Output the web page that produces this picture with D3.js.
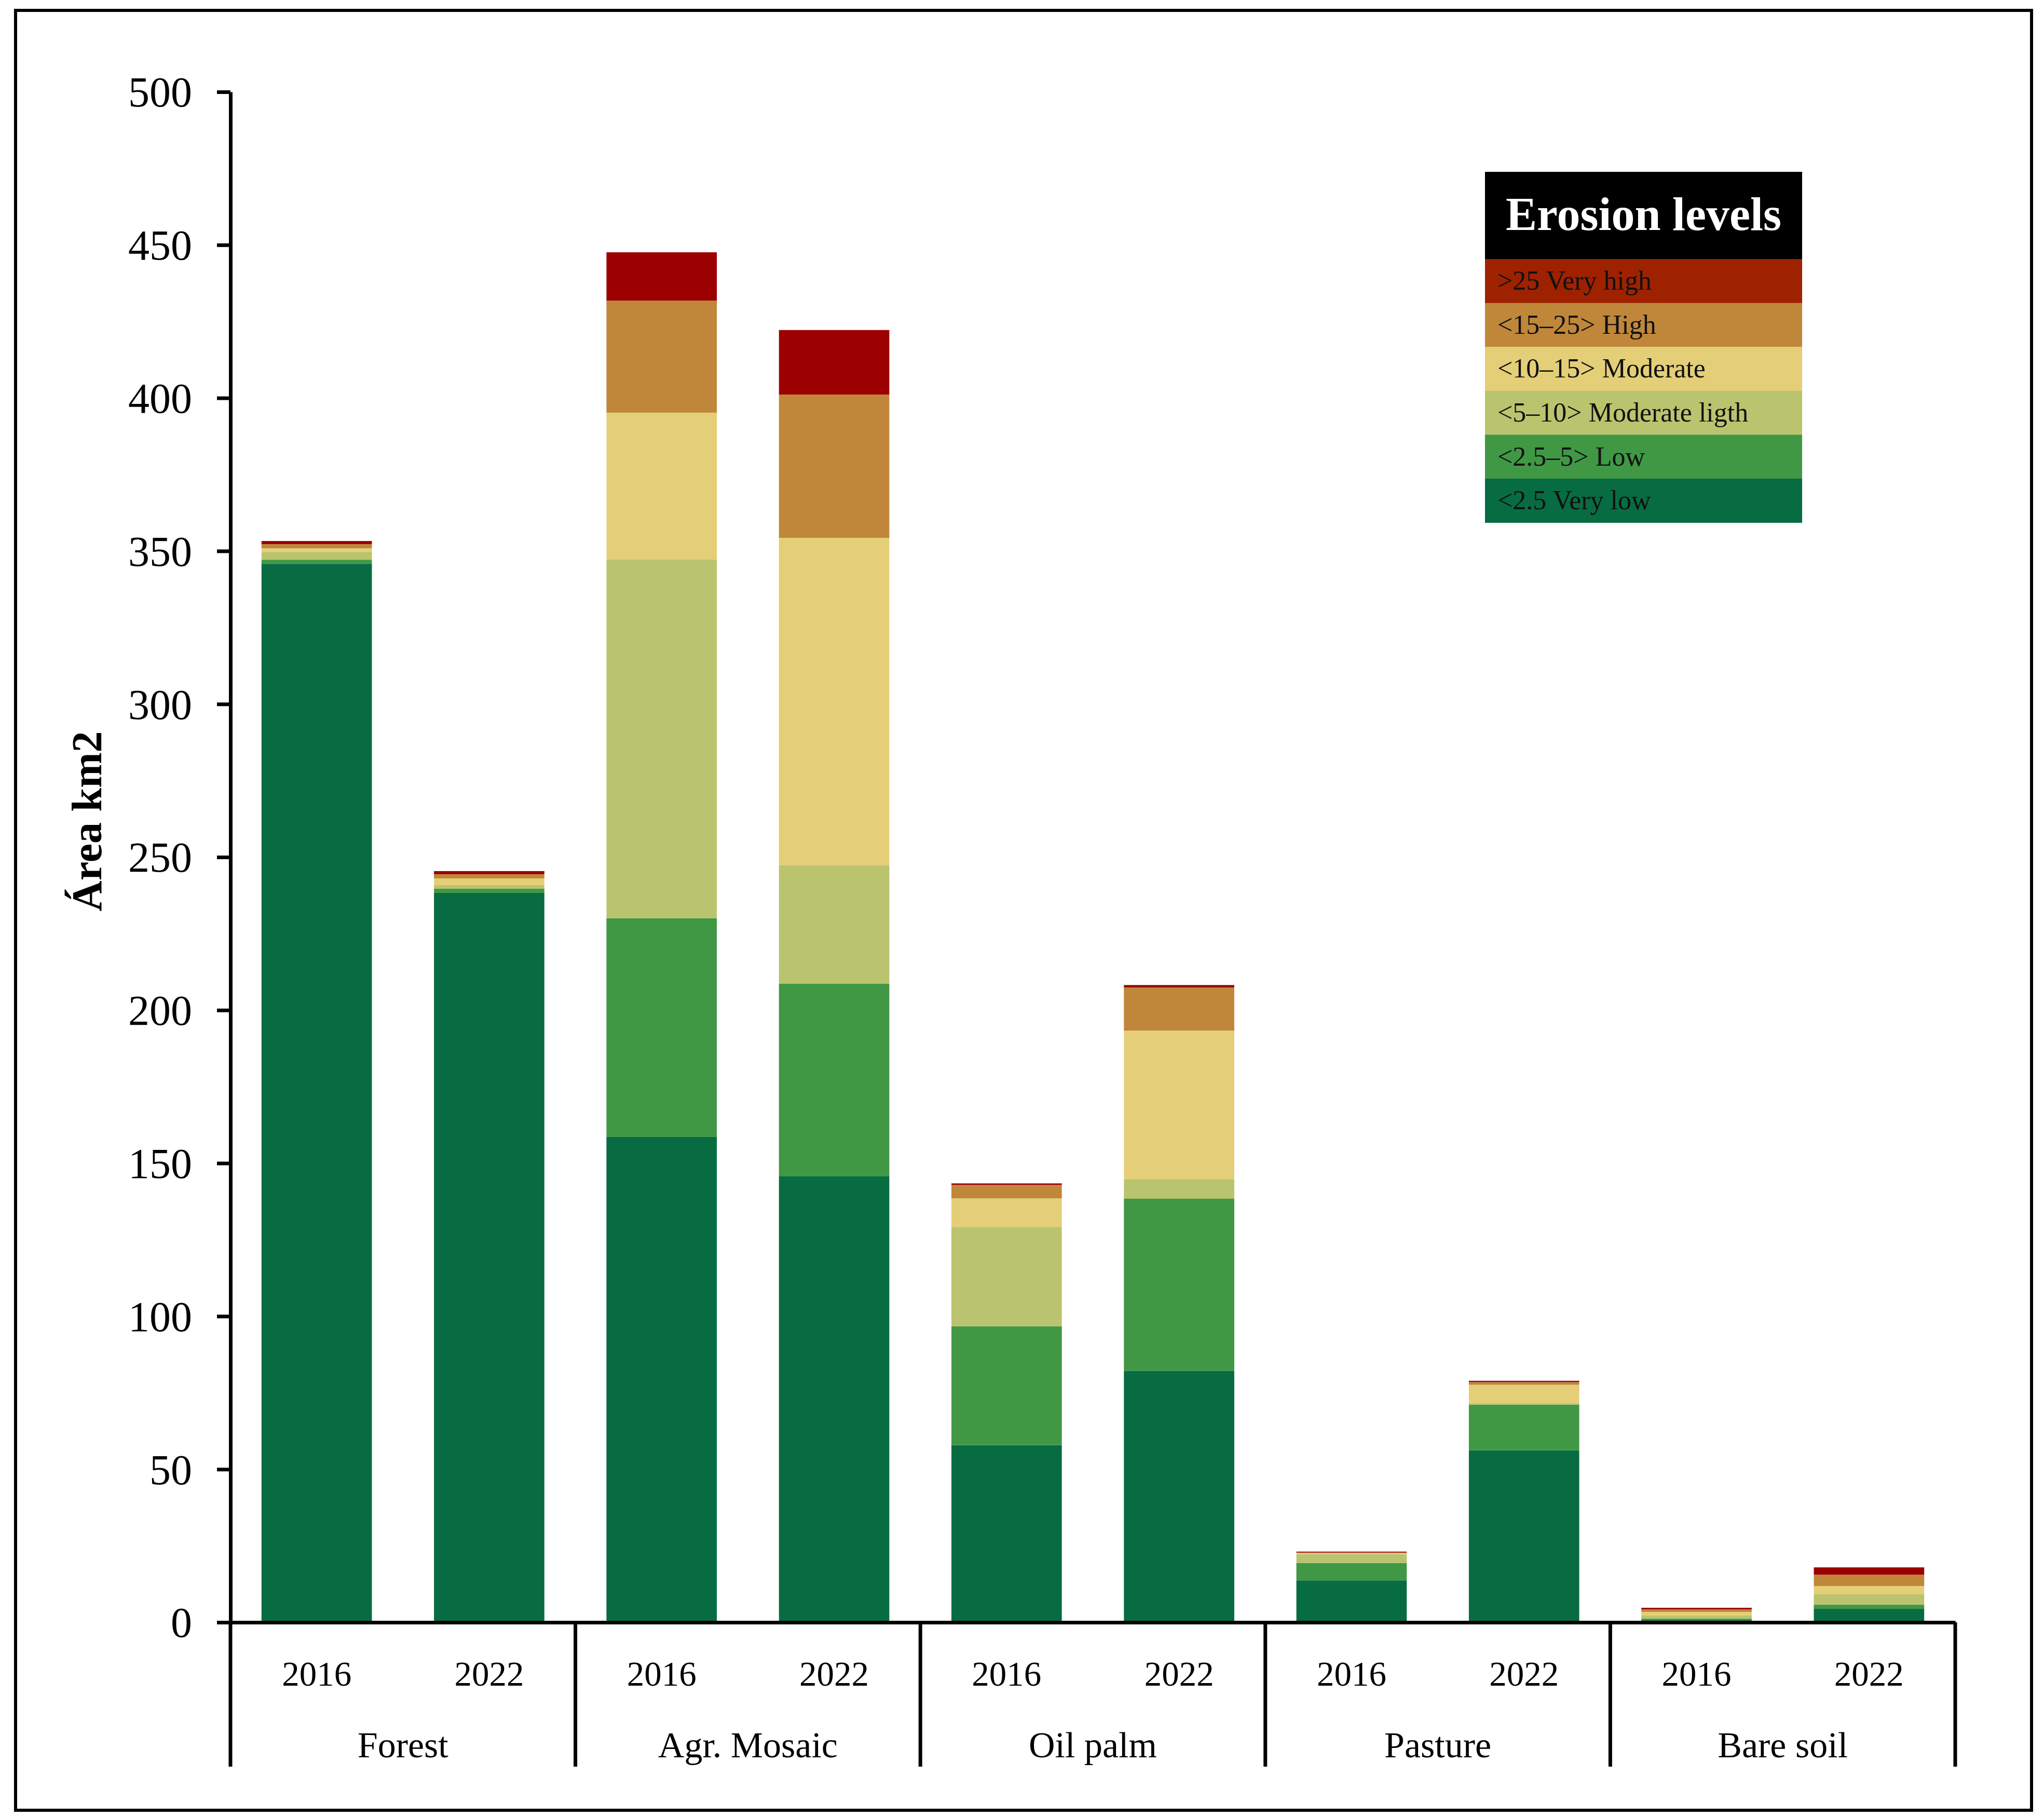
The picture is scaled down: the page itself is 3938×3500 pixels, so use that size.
<!DOCTYPE html>
<html>
<head>
<meta charset="utf-8">
<script src="https://cdn.jsdelivr.net/npm/d3@7"></script>
<style>
  body { margin: 0; background: #fff; }
  svg { display: block; }
  text { font-family: "Liberation Serif", "DejaVu Serif", serif; fill: #000; }
</style>
</head>
<body>
<div id="chart"></div>
<script>
// land cover groups and years
var groups = ["Forest", "Agr. Mosaic", "Oil palm", "Pasture", "Bare soil"];
var years = ["2016", "2022"];

// erosion level values (km2), one entry per bar: Forest 2016, Forest 2022, Agr 2016, ...
var veryLow      = [345.8, 238.3, 158.6, 145.7, 57.9, 82.2, 13.7, 56.2, 0.7, 4.4];
var low          = [1.36, 1.36, 71.4, 63.0, 38.8, 56.2, 5.7, 14.9, 0.5, 1.35];
var moderateLigh = [2.54, 1.19, 117.3, 38.7, 32.5, 6.4, 2.9, 0.5, 1.0, 3.4];
var moderate     = [1.19, 2.2, 47.9, 106.9, 9.3, 48.5, 0.3, 6.0, 1.2, 2.7];
var high         = [1.36, 1.36, 36.6, 46.8, 4.4, 14.1, 0.2, 0.9, 0.85, 3.7];
var veryHigh     = [1.02, 1.02, 15.8, 21.1, 0.5, 0.8, 0.3, 0.4, 0.5, 2.4];

var levelKeys = ["vl", "l", "ml", "m", "h", "vh"];
var levelLabels = ["<2.5 Very low", "<2.5\u20135> Low", "<5\u201310> Moderate ligth",
                   "<10\u201315> Moderate", "<15\u201325> High", ">25 Very high"];
var levelColors = ["#086c42", "#409845", "#bac46e", "#e4cf78", "#c0873a", "#9c0000"];
var legendColors = ["#086c42", "#409845", "#bac46e", "#e4cf78", "#c0873a", "#9e2200"];

var yTicks = [0, 50, 100, 150, 200, 250, 300, 350, 400, 450, 500];

var W = 3938, H = 3500;
var plotLeft = 444, plotRight = 3767, plotTop = 177, plotBase = 3125, sepBottom = 3403;

// build rows for d3.stack
var rows = [];
groups.forEach(function(g, gi) {
    years.forEach(function(yr, yi) {
        var i = gi * 2 + yi;
        rows.push({id: g + "|" + yr, group: g, year: yr,
            vl: veryLow[i], l: low[i], ml: moderateLigh[i],
            m: moderate[i], h: high[i], vh: veryHigh[i]});
    });
});

var series = d3.stack().keys(levelKeys)(rows);

var x = d3.scaleBand()
    .domain(rows.map(function(d) { return d.id; }))
    .range([plotLeft, plotRight])
    .paddingInner(0.36)
    .paddingOuter(0.18);

var xg = d3.scaleBand()
    .domain(groups)
    .range([plotLeft, plotRight]);

var y = d3.scaleLinear()
    .domain([0, 500])
    .range([plotBase, plotTop]);

var color = d3.scaleOrdinal().domain(levelKeys).range(levelColors);

var svg = d3.select("#chart").append("svg")
    .attr("width", W)
    .attr("height", H);

// outer frame
svg.append("rect")
    .attr("x", 30).attr("y", 20)
    .attr("width", 3884).attr("height", 3467)
    .attr("fill", "none")
    .attr("stroke", "#000")
    .attr("stroke-width", 6);

// bars
svg.append("g").selectAll("g")
    .data(series)
    .enter().append("g")
    .attr("fill", function(d) { return color(d.key); })
    .selectAll("rect")
    .data(function(d) { return d; })
    .enter().append("rect")
    .attr("x", function(d) { return x(d.data.id); })
    .attr("width", x.bandwidth())
    .attr("y", function(d) { return y(d[1]); })
    .attr("height", function(d) { return y(d[0]) - y(d[1]); });

// y axis
var yAxis = svg.append("g")
    .attr("transform", "translate(" + plotLeft + ",0)")
    .call(d3.axisLeft(y).tickValues(yTicks).tickSize(26).tickSizeOuter(0).tickPadding(48));
yAxis.select(".domain").attr("stroke-width", 7);
yAxis.selectAll(".tick line").attr("stroke-width", 7);
yAxis.selectAll(".tick text")
    .attr("font-size", 82)
    .attr("font-family", "Liberation Serif, serif")
    .attr("dy", "0.34em");

// x axis with year labels
var xAxis = svg.append("g")
    .attr("transform", "translate(0," + plotBase + ")")
    .call(d3.axisBottom(x).tickSize(0).tickSizeOuter(0).tickPadding(74)
        .tickFormat(function(d) { return d.split("|")[1]; }));
xAxis.select(".domain").attr("stroke-width", 7);
xAxis.selectAll(".tick text")
    .attr("font-size", 67)
    .attr("font-family", "Liberation Serif, serif");

// group separators
var seps = groups.map(function(g) { return xg(g); }).concat([plotRight]);
svg.append("g").selectAll("line")
    .data(seps)
    .enter().append("line")
    .attr("x1", function(d) { return d; })
    .attr("x2", function(d) { return d; })
    .attr("y1", plotBase)
    .attr("y2", sepBottom)
    .attr("stroke", "#000")
    .attr("stroke-width", 7);

// group labels
svg.append("g").selectAll("text")
    .data(groups)
    .enter().append("text")
    .attr("x", function(d) { return xg(d) + xg.bandwidth() / 2; })
    .attr("y", 3385)
    .attr("text-anchor", "middle")
    .attr("font-size", 70)
    .text(function(d) { return d; });

// y label
svg.append("text")
    .attr("transform", "translate(195,1582) rotate(-90)")
    .attr("text-anchor", "middle")
    .attr("font-size", 82)
    .attr("font-weight", "bold")
    .text("Área km2");

// legend
var lgX = 2861, lgY = 331, lgW = 611, titleH = 168, rowH = 84.6;
var legend = svg.append("g");
legend.append("rect")
    .attr("x", lgX).attr("y", lgY)
    .attr("width", lgW).attr("height", titleH)
    .attr("fill", "#000");
legend.append("text")
    .attr("x", lgX + lgW / 2)
    .attr("y", lgY + 112)
    .attr("text-anchor", "middle")
    .attr("font-size", 90)
    .attr("font-weight", "bold")
    .style("fill", "#fff")
    .text("Erosion levels");

var order = d3.range(levelKeys.length).reverse();
var lgRows = legend.selectAll(".lg-row")
    .data(order)
    .enter().append("g")
    .attr("class", "lg-row")
    .attr("transform", function(d, i) { return "translate(" + lgX + "," + (lgY + titleH + i * rowH) + ")"; });
lgRows.append("rect")
    .attr("width", lgW)
    .attr("height", rowH + 0.5)
    .attr("fill", function(d) { return legendColors[d]; });
lgRows.append("text")
    .attr("x", 24)
    .attr("y", rowH / 2 + 17)
    .attr("font-size", 52)
    .style("fill", "#111")
    .text(function(d) { return levelLabels[d]; });
</script>
</body>
</html>
